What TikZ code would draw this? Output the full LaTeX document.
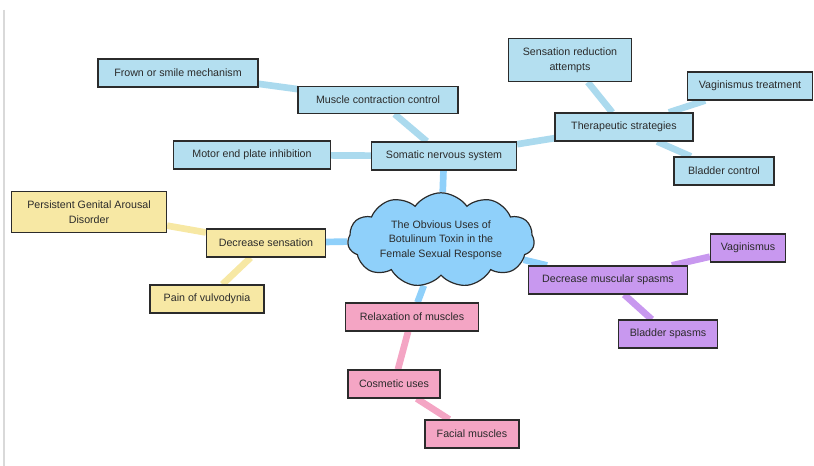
\documentclass[tikz,border=0pt]{standalone}
\usepackage{fontspec}
\setmainfont{Liberation Sans}
\usetikzlibrary{shapes.symbols,backgrounds}
\definecolor{bluebox}{HTML}{B4DFF0}
\definecolor{bluelink}{HTML}{ABDAEE}
\definecolor{cloudfill}{HTML}{8FD0FA}
\definecolor{yellowbox}{HTML}{F7E8A4}
\definecolor{pinkbox}{HTML}{F4A5C4}
\definecolor{purplebox}{HTML}{C898EF}
\definecolor{ink}{HTML}{2B2B2B}
\begin{document}
\begin{tikzpicture}[x=0.75pt,y=-0.75pt,
  box/.style={draw=ink, line width=0.9pt, font=\fontsize{8}{11.25}\selectfont, align=center,
    inner sep=0pt, minimum height=21pt, text=ink},
  bbox/.style={box, fill=bluebox},
  ybox/.style={box, fill=yellowbox},
  pbox/.style={box, fill=pinkbox},
  vbox/.style={box, fill=purplebox},
  link/.style={line width=5pt},
  mainlink/.style={link, draw=cloudfill},
  bluelinkst/.style={link, draw=bluelink},
  yellowlink/.style={link, draw=yellowbox},
  pinklink/.style={link, draw=pinkbox},
  purplelink/.style={link, draw=purplebox}]
\useasboundingbox (0,0) rectangle (814,466);
\coordinate (edgetop) at (4,10);
\coordinate (edgebot) at (4,466);
\draw[gray!30, line width=1.4pt] (edgetop) -- (edgebot);

% central cloud
\node[cloud, cloud puffs=11, cloud puff arc=110, aspect=2.4, draw=ink, line width=0.9pt,
  fill=cloudfill, inner sep=0pt, minimum width=140pt, minimum height=58pt, text=ink,
  font=\fontsize{8}{11}\selectfont, align=center] (root) at (441,240)
  {The Obvious Uses of\\Botulinum Toxin in the\\Female Sexual Response};

% blue branch
\node[bbox, minimum width=108.75pt] (som) at (444,156) {Somatic nervous system};
\node[bbox, minimum width=120pt, minimum height=20.25pt] (mcc) at (378,100) {Muscle contraction control};
\node[bbox, minimum width=120pt] (frown) at (178,73) {Frown or smile mechanism};
\node[bbox, minimum width=117.75pt] (motor) at (252,155) {Motor end plate inhibition};
\node[bbox, minimum width=103.5pt] (ther) at (624,127) {Therapeutic strategies};
\node[bbox, minimum width=92.25pt, minimum height=32.25pt] (sens) at (570,60) {Sensation reduction\\attempts};
\node[bbox, minimum width=93.75pt] (vagt) at (750,86) {Vaginismus treatment};
\node[bbox, minimum width=75pt] (bladc) at (724,171) {Bladder control};

% yellow branch
\node[ybox, minimum width=89.25pt] (decs) at (266,243) {Decrease sensation};
\node[ybox, minimum width=116.25pt, minimum height=30.75pt] (pgad) at (89,212) {Persistent Genital Arousal\\Disorder};
\node[ybox, minimum width=85.5pt] (pain) at (207,299) {Pain of vulvodynia};

% purple branch
\node[vbox, minimum width=119.25pt] (dms) at (608,280) {Decrease muscular spasms};
\node[vbox, minimum width=56.25pt] (vag) at (748,248) {Vaginismus};
\node[vbox, minimum width=74.25pt] (blads) at (668,334) {Bladder spasms};

% pink branch
\node[pbox, minimum width=99.75pt] (relax) at (412,317) {Relaxation of muscles};
\node[pbox, minimum width=69pt] (cosm) at (394,384) {Cosmetic uses};
\node[pbox, minimum width=70.5pt] (facial) at (472,434) {Facial muscles};

\begin{scope}[on background layer]
  \draw[mainlink] (root) -- (som);
  \draw[mainlink] (root) -- (decs);
  \draw[mainlink] (root) -- (dms);
  \draw[mainlink] (root) -- (relax);
  \draw[bluelinkst] (som) -- (mcc);
  \draw[bluelinkst] (mcc) -- (frown);
  \draw[bluelinkst] (som) -- (motor);
  \draw[bluelinkst] (som) -- (ther);
  \draw[bluelinkst] (ther) -- (sens);
  \draw[bluelinkst] (ther) -- (vagt);
  \draw[bluelinkst] (ther) -- (bladc);
  \draw[yellowlink] (decs) -- (pgad);
  \draw[yellowlink] (decs) -- (pain);
  \draw[purplelink] (dms) -- (vag);
  \draw[purplelink] (dms) -- (blads);
  \draw[pinklink] (relax) -- (cosm);
  \draw[pinklink] (cosm) -- (facial);
\end{scope}
\end{tikzpicture}
\end{document}
